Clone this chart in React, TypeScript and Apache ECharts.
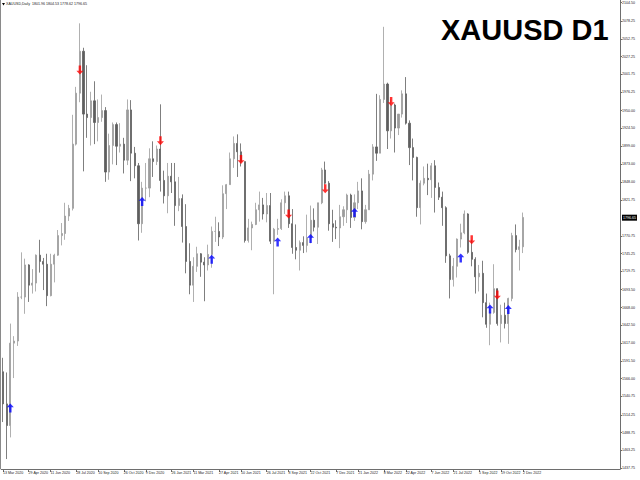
import React, { useEffect, useRef } from "react";
import * as echarts from "echarts";

// Weekly OHLC of XAUUSD (weeks ending Friday, from 13 Mar 2020)
const firstWeekEnd = "2020-03-13";
const opens = [
  1576, 1530, 1499, 1617, 1620, 1683, 1683, 1729, 1700, 1703, 1743, 1734, 1730, 1685, 1730, 1743, 1771, 1774, 1799, 1810,
  1902, 1975, 2035, 1945, 1940, 1964, 1933, 1940, 1950, 1862, 1900, 1930, 1899, 1902, 1879, 1951, 1889, 1871, 1788, 1839,
  1839, 1881, 1877, 1895, 1850, 1828, 1856, 1848, 1814, 1824, 1784, 1734, 1700, 1727, 1745, 1733, 1729, 1744, 1777, 1777,
  1769, 1831, 1844, 1881, 1903, 1891, 1877, 1764, 1782, 1787, 1808, 1815, 1802, 1814, 1763, 1780, 1781, 1818, 1828, 1788,
  1754, 1750, 1761, 1757, 1768, 1793, 1783, 1818, 1865, 1846, 1788, 1783, 1782, 1798, 1808, 1829, 1797, 1818, 1835, 1791,
  1808, 1859, 1898, 1889, 1966, 1988, 1921, 1958, 1925, 1945, 1974, 1932, 1897, 1883, 1811, 1846, 1853, 1851, 1871, 1840,
  1826, 1811, 1742, 1708, 1727, 1766, 1775, 1802, 1747, 1737, 1712, 1717, 1675, 1644, 1661, 1695, 1645, 1657, 1645, 1681,
  1771, 1751, 1755,
];
const highs = [
  1596, 1575, 1645, 1627, 1690, 1747, 1738, 1730, 1723, 1744, 1765, 1739, 1745, 1745, 1745, 1779, 1789, 1818, 1815, 1944,
  1984, 2075, 2040, 2015, 1977, 1992, 1966, 1973, 1955, 1917, 1933, 1933, 1932, 1911, 1966, 1965, 1898, 1875, 1848, 1875,
  1896, 1906, 1900, 1959, 1864, 1875, 1875, 1875, 1855, 1830, 1816, 1760, 1740, 1755, 1746, 1740, 1758, 1784, 1798, 1790,
  1843, 1845, 1890, 1913, 1916, 1903, 1877, 1795, 1791, 1818, 1834, 1825, 1832, 1832, 1782, 1795, 1823, 1834, 1834, 1809,
  1787, 1764, 1770, 1801, 1814, 1810, 1818, 1868, 1877, 1849, 1808, 1793, 1815, 1813, 1831, 1831, 1830, 1848, 1853, 1815,
  1865, 1902, 1974, 1972, 2070, 1990, 1966, 1960, 1945, 1979, 1998, 1936, 1910, 1884, 1850, 1870, 1874, 1875, 1879, 1847,
  1834, 1813, 1745, 1739, 1767, 1788, 1807, 1803, 1765, 1740, 1729, 1735, 1688, 1675, 1730, 1689, 1672, 1675, 1682, 1775,
  1787, 1765, 1804,
];
const lows = [
  1504, 1451, 1482, 1567, 1613, 1680, 1659, 1676, 1688, 1691, 1718, 1693, 1670, 1684, 1704, 1742, 1757, 1765, 1792, 1807,
  1900, 1962, 1863, 1911, 1900, 1902, 1906, 1934, 1848, 1851, 1873, 1872, 1890, 1860, 1872, 1849, 1853, 1764, 1775, 1820,
  1826, 1855, 1872, 1834, 1817, 1803, 1832, 1785, 1806, 1761, 1717, 1687, 1676, 1719, 1712, 1677, 1721, 1725, 1762, 1756,
  1766, 1809, 1844, 1868, 1855, 1870, 1761, 1761, 1750, 1786, 1791, 1794, 1790, 1759, 1687, 1772, 1779, 1802, 1782, 1745,
  1737, 1721, 1746, 1747, 1760, 1777, 1759, 1816, 1844, 1778, 1762, 1766, 1753, 1785, 1789, 1782, 1792, 1809, 1780, 1788,
  1808, 1850, 1878, 1889, 1961, 1895, 1910, 1890, 1915, 1940, 1930, 1872, 1850, 1798, 1787, 1843, 1829, 1825, 1804, 1822,
  1785, 1732, 1681, 1698, 1711, 1754, 1773, 1745, 1727, 1688, 1691, 1654, 1639, 1614, 1659, 1642, 1618, 1638, 1616, 1677,
  1747, 1721, 1746,
];
const closes = [
  1530, 1499, 1617, 1620, 1683, 1683, 1729, 1700, 1703, 1743, 1734, 1730, 1685, 1730, 1743, 1771, 1774, 1799, 1810, 1902,
  1975, 2035, 1945, 1940, 1964, 1933, 1940, 1950, 1862, 1900, 1930, 1899, 1902, 1879, 1951, 1889, 1871, 1788, 1839, 1839,
  1881, 1877, 1895, 1850, 1828, 1856, 1848, 1814, 1824, 1784, 1734, 1700, 1727, 1745, 1733, 1729, 1744, 1777, 1777, 1769,
  1831, 1844, 1881, 1903, 1891, 1877, 1764, 1782, 1787, 1808, 1815, 1802, 1814, 1763, 1780, 1781, 1818, 1828, 1788, 1754,
  1750, 1761, 1757, 1768, 1793, 1783, 1818, 1865, 1846, 1788, 1783, 1782, 1798, 1808, 1829, 1797, 1818, 1835, 1791, 1808,
  1859, 1898, 1889, 1966, 1988, 1921, 1958, 1925, 1945, 1974, 1932, 1897, 1883, 1811, 1846, 1853, 1851, 1871, 1840, 1826,
  1811, 1742, 1708, 1727, 1766, 1775, 1802, 1747, 1737, 1712, 1717, 1675, 1644, 1661, 1695, 1645, 1657, 1645, 1681, 1771,
  1751, 1755, 1797,
];
const emptyWeeksRight = 26;

// Signal arrows: [week index, price]
const upArrowWeeks = [2, 38, 57, 75, 84, 96, 125, 133, 138];
const upArrowPrices = [1524, 1820, 1737, 1762, 1767, 1804, 1739, 1666, 1665];
const downArrowWeeks = [21, 43, 65, 78, 88, 106, 128, 135];
const downArrowPrices = [2008, 1907, 1880, 1802, 1838, 1963, 1765, 1686];

// Axis texts
const xTickLabels = [
  "13 Mar 2020", "29 Apr 2020", "11 Jun 2020", "28 Jul 2020", "10 Sep 2020", "26 Oct 2020", "9 Dec 2020",
  "26 Jan 2021", "11 Mar 2021", "27 Apr 2021", "10 Jun 2021", "26 Jul 2021", "8 Sep 2021", "22 Oct 2021",
  "7 Dec 2021", "21 Jan 2022", "8 Mar 2022", "22 Apr 2022", "7 Jun 2022", "21 Jul 2022", "5 Sep 2022",
  "19 Oct 2022", "2 Dec 2022",
];
const yTickValues = [
  2104.5, 2078.25, 2052.75, 2027.25, 2001.75, 1976.25, 1950.0, 1924.5, 1899.0, 1873.0, 1848.0, 1821.75,
  1770.75, 1745.25, 1719.75, 1693.5, 1668.0, 1642.5, 1617.0, 1591.5, 1566.0, 1540.75, 1514.25, 1488.75,
  1463.25, 1437.75,
];
const currentPrice = 1796.65;
const headerText = "XAUUSD,Daily  1801.96 1804.53 1778.62 1796.65";
const titleText = "XAUUSD D1";

const MONTHS = ["Jan", "Feb", "Mar", "Apr", "May", "Jun", "Jul", "Aug", "Sep", "Oct", "Nov", "Dec"];

export default function App() {
  const ref = useRef<HTMLDivElement>(null);

  useEffect(() => {
    if (!ref.current) return;
    const chart = echarts.init(ref.current, null, { renderer: "svg" });

    const start = new Date(firstWeekEnd + "T00:00:00Z").getTime();
    const totalCats = closes.length + emptyWeeksRight;
    const catTimes: number[] = [];
    for (let i = 0; i < totalCats; i++) catTimes.push(start + i * 7 * 86400000);
    const categories = catTimes.map((t) => new Date(t).toISOString().slice(0, 10));

    const labelAt: Record<number, string> = {};
    xTickLabels.forEach((s) => {
      const [d, m, y] = s.split(" ");
      const t = Date.UTC(+y, MONTHS.indexOf(m), +d);
      const idx = catTimes.findIndex((c) => c >= t);
      if (idx >= 0) labelAt[idx] = s;
    });
    const isLabel = (i: number) => labelAt[i] !== undefined;

    const candles = closes.map((c, i) => [opens[i], c, lows[i], highs[i]]);
    const ups = upArrowWeeks.map((w, i) => [w, upArrowPrices[i]]);
    const downs = downArrowWeeks.map((w, i) => [w, downArrowPrices[i]]);

    const arrowUp = "path://M4,0 L8,4.2 L5.4,4.2 L5.4,10 L2.6,10 L2.6,4.2 L0,4.2 Z";
    const arrowDown = "path://M4,10 L8,5.8 L5.4,5.8 L5.4,0 L2.6,0 L2.6,5.8 L0,5.8 Z";

    chart.setOption({
      animation: false,
      backgroundColor: "#ffffff",
      textStyle: { fontFamily: "'Liberation Sans', 'DejaVu Sans', sans-serif" },
      grid: { left: -2, right: 18, top: 0, bottom: 11, containLabel: false },
      xAxis: {
        type: "category",
        data: categories,
        boundaryGap: true,
        axisLine: { show: true, lineStyle: { color: "#6e6e6e", width: 1 } },
        axisTick: { show: true, interval: (i: number) => isLabel(i), alignWithLabel: true, length: 3, lineStyle: { color: "#6e6e6e" } },
        axisLabel: {
          interval: (i: number) => isLabel(i),
          formatter: (_v: string, i: number) => labelAt[i] || "",
          align: "left",
          fontSize: 3.6,
          color: "#222",
          margin: 2,
        },
        splitLine: { show: false },
      },
      yAxis: {
        type: "value",
        position: "right",
        min: 1436.75,
        max: 2108.4,
        splitLine: { show: false },
        axisLine: { show: true, lineStyle: { color: "#6e6e6e", width: 1 } },
        axisTick: { show: true, customValues: yTickValues, length: 2, lineStyle: { color: "#6e6e6e" } },
        axisLabel: {
          customValues: [...yTickValues, currentPrice],
          formatter: (v: number) =>
            Math.abs(v - currentPrice) < 0.001 ? "{cur|" + v.toFixed(2) + "}" : v.toFixed(2),
          fontSize: 3.6,
          color: "#222",
          margin: 2,
          rich: {
            cur: { backgroundColor: "#000000", color: "#ffffff", fontSize: 3.6, padding: [1, 1, 1, 1] },
          },
        },
      },
      series: [
        {
          type: "candlestick",
          data: candles,
          barWidth: 1.6,
          itemStyle: {
            color: "#9c9c9c",
            color0: "#5e5e5e",
            borderColor: "#9c9c9c",
            borderColor0: "#5e5e5e",
            borderWidth: 0.8,
          },
        },
        {
          type: "scatter",
          data: ups,
          symbol: arrowUp,
          symbolSize: [7, 9],
          itemStyle: { color: "#0000ff" },
          z: 5,
        },
        {
          type: "scatter",
          data: downs,
          symbol: arrowDown,
          symbolSize: [7, 9],
          itemStyle: { color: "#ff0000" },
          z: 5,
        },
      ],
      graphic: [
        { type: "line", shape: { x1: 0.5, y1: 0, x2: 0.5, y2: 469 }, style: { stroke: "#8a8a8a", lineWidth: 1 } },
        { type: "polygon", shape: { points: [[2, 3], [5, 3], [3.5, 5.5]] }, style: { fill: "#000" } },
        {
          type: "text",
          left: 6,
          top: 2,
          style: { text: headerText, fontSize: 3.6, fill: "#222", fontFamily: "'Liberation Sans', sans-serif" },
        },
        {
          type: "text",
          left: 441,
          top: 15,
          style: {
            text: titleText,
            fill: "#000000",
            font: "bold 29px 'Liberation Sans', Arial, sans-serif",
          },
        },
      ],
    });

    return () => chart.dispose();
  }, []);

  return (
    <div
      ref={ref}
      style={{ position: "fixed", left: 0, top: 0, width: 640, height: 480, background: "#fff" }}
    />
  );
}
